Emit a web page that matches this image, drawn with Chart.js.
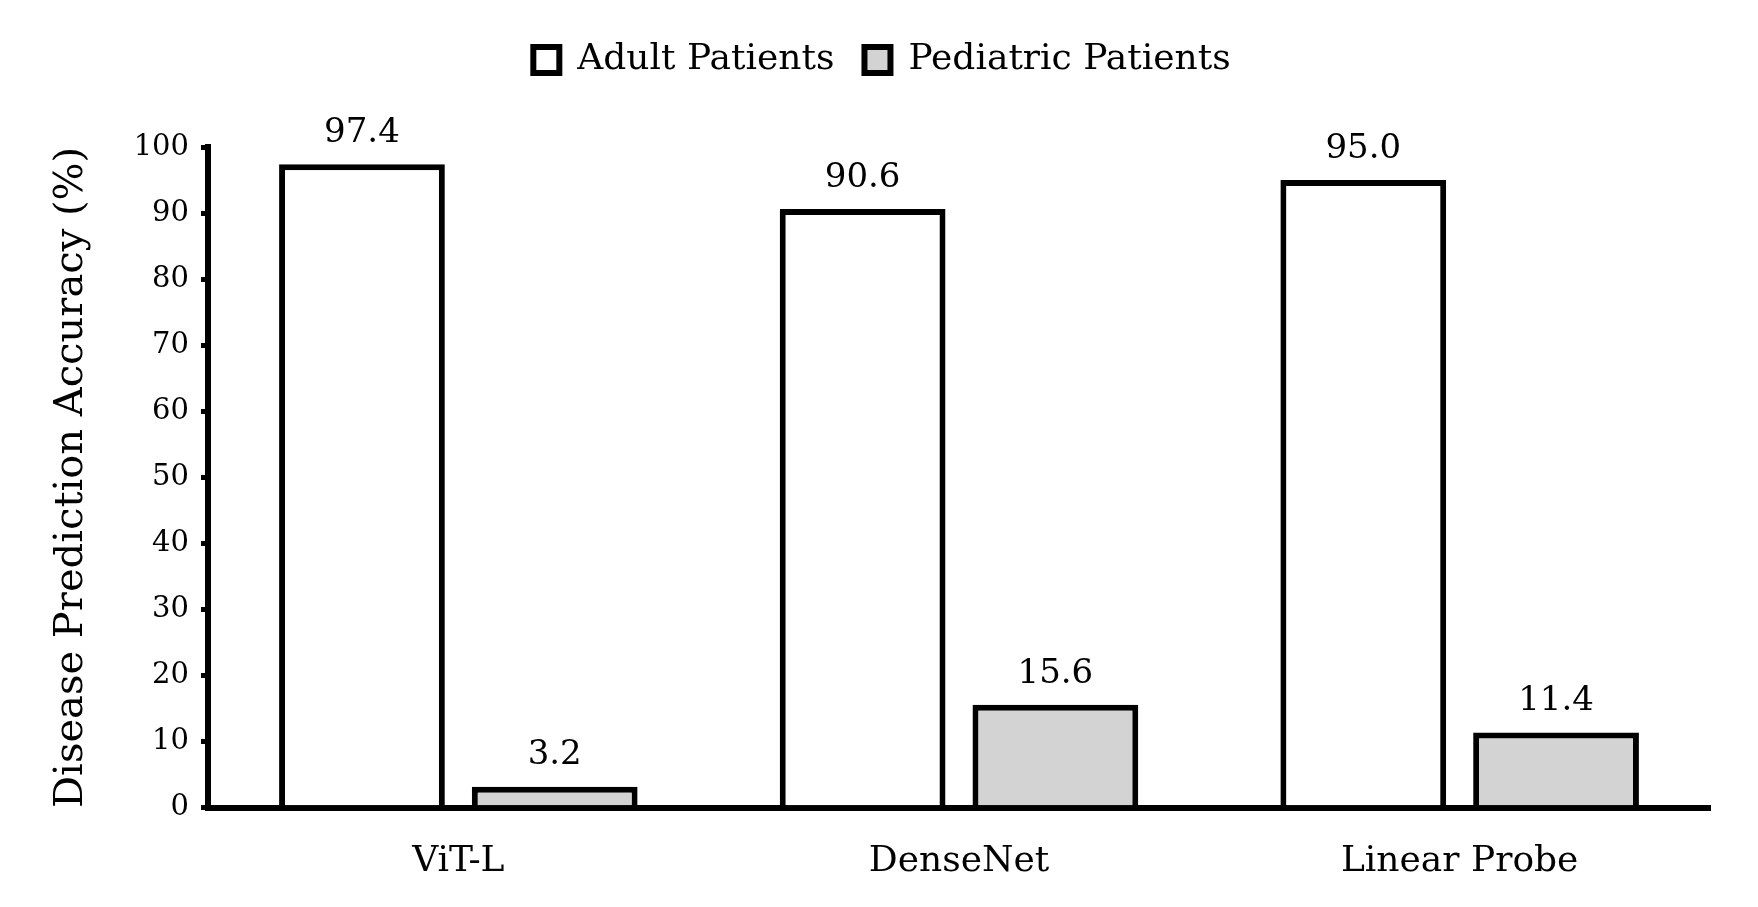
<!DOCTYPE html>
<html>
<head>
<meta charset="utf-8">
<script src="https://cdn.jsdelivr.net/npm/chart.js@4"></script>
<style>
  html, body { margin: 0; padding: 0; background: #fff; }
  #wrap { width: 1758px; height: 907px; }
</style>
</head>
<body>
<div id="wrap"><canvas id="bar"></canvas></div>
<script>
let models = ["ViT-L", "DenseNet", "Linear Probe"];
let adult = [97.4, 90.6, 95.0];
let pediatric = [3.2, 15.6, 11.4];
let yTicks = [0, 10, 20, 30, 40, 50, 60, 70, 80, 90, 100];

let serif = "'DejaVu Serif', 'Liberation Serif', serif";

// writes the value above each bar
let valueLabels = {
    id: "valueLabels",
    afterDatasetsDraw(chart) {
        let ctx = chart.ctx;
        ctx.save();
        ctx.fillStyle = "#000";
        ctx.font = "34px " + serif;
        ctx.textAlign = "center";
        ctx.textBaseline = "bottom";
        chart.data.datasets.forEach(function (ds, i) {
            chart.getDatasetMeta(i).data.forEach(function (bar, j) {
                ctx.fillText(ds.data[j].toFixed(1), bar.x, bar.y - 14);
            });
        });
        ctx.restore();
    }
};

// more room under the legend, and nudge it right a little
let legendGap = {
    id: "legendGap",
    beforeInit(chart) {
        let fit = chart.legend.fit;
        chart.legend.fit = function () {
            fit.bind(chart.legend)();
            this.height += 59;
        };
    },
    afterLayout(chart) {
        chart.legend.left += 27;
        chart.legend.right += 27;
    }
};

let bar = document.getElementById("bar").getContext("2d");
let barChart = new Chart(bar, {
    type: "bar",
    data: {
        labels: models,
        datasets: [{
            label: "Adult Patients",
            data: adult,
            backgroundColor: "#ffffff",
            borderColor: "#000",
            borderWidth: 6
        }, {
            label: "Pediatric Patients",
            data: pediatric,
            backgroundColor: "#d3d3d3",
            borderColor: "#000",
            borderWidth: 6
        }]
    },
    options: {
        responsive: true,
        maintainAspectRatio: false,
        animation: false,
        categoryPercentage: 0.77,
        barPercentage: 0.86,
        layout: {
            padding: { top: 12, right: 48, bottom: 0, left: 0 }
        },
        plugins: {
            tooltip: { enabled: false },
            legend: {
                position: "top",
                labels: {
                    color: "#000",
                    font: { family: serif, size: 36 },
                    boxWidth: 26,
                    boxHeight: 26,
                    padding: 30
                }
            }
        },
        scales: {
            x: {
                grid: { display: false },
                border: { display: true, color: "#000", width: 6 },
                ticks: {
                    color: "#000",
                    font: { family: serif, size: 36 },
                    padding: 24
                }
            },
            y: {
                min: 0,
                max: 100,
                afterFit: function (scale) { scale.width = 208; },
                afterBuildTicks: function (scale) {
                    scale.ticks = yTicks.map(function (v) { return { value: v }; });
                },
                grid: {
                    drawOnChartArea: false,
                    drawTicks: true,
                    tickLength: 7,
                    color: "#000",
                    lineWidth: 5
                },
                border: { display: true, color: "#000", width: 6 },
                ticks: {
                    color: "#000",
                    font: { family: serif, size: 29 },
                    padding: 12
                },
                title: {
                    display: true,
                    text: "Disease Prediction Accuracy (%)",
                    color: "#000",
                    font: { family: serif, size: 40 },
                    padding: { top: 48, bottom: 4 }
                }
            }
        }
    },
    plugins: [valueLabels, legendGap]
});
</script>
</body>
</html>
